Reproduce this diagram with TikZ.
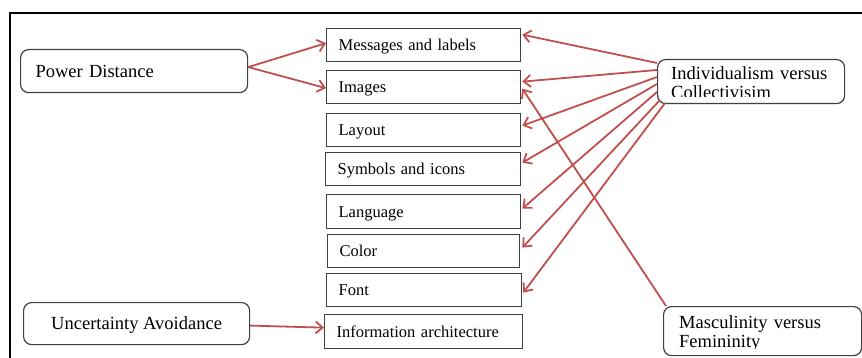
\documentclass[tikz,border=0pt]{standalone}
\usepackage{fontspec}
\setmainfont{Liberation Serif}
\usetikzlibrary{arrows.meta,calc}

\definecolor{linkred}{HTML}{C0504D}
\definecolor{boxgray}{HTML}{404040}
\newcommand\itemsize{\fontsize{16.5}{20}\selectfont}
\newcommand\dimsize{\fontsize{18.5}{19}\selectfont}

\tikzset{
  itembox/.style={draw=boxgray, line width=1.3pt, anchor=north west,
    inner xsep=12pt, inner ysep=0pt, text width=170pt, minimum height=33pt,
    text height=11pt, text depth=0pt, align=left, font=\itemsize},
  dimbox/.style={draw=boxgray, line width=1.2pt, rounded corners=8pt,
    anchor=north west, inner ysep=0pt, font=\dimsize},
  dimtext/.style={anchor=base west, inner sep=0pt, align=left,
    text width=175pt, font=\dimsize},
  link/.style={draw=linkred, line width=1.8pt,
    -{Straight Barb[length=7pt, width=12pt]}},
}

\begin{document}
\begin{tikzpicture}[x=1pt, y=-1pt]
  \useasboundingbox (0,0) rectangle (862,358);

  % outer frame (top and left edges)
  \coordinate (frameL) at (10,358);
  \coordinate (frameC) at (10,13);
  \coordinate (frameR) at (862,13);
  \draw[line width=2.5pt] (frameL) -- (frameC) -- (frameR);

  % cultural dimensions
  \node[dimbox, inner xsep=15pt, text width=197pt, minimum height=43pt,
        text height=12pt, text depth=0pt, align=left]
    (pd) at (20,49) {Power Distance};
  \node[dimbox, inner xsep=0pt, minimum width=226pt, minimum height=42pt,
        text height=11pt, text depth=0pt, align=center]
    (ua) at (23,302) {Uncertainty Avoidance};
  \node[dimbox, minimum width=187pt, minimum height=44pt] (indiv) at (657,59) {};
  \node[dimbox, minimum width=198pt, minimum height=49pt] (masc) at (663,306) {};
  \begin{scope}
    \clip (657,59) rectangle (844,96.5);
    \node[dimtext] (indivtext) at (671,80) {Individualism versus\\Collectivisim};
  \end{scope}
  \begin{scope}
    \clip (663,306) rectangle (862,348);
    \node[dimtext] (masctext) at (679,328) {Masculinity versus\\Femininity};
  \end{scope}

  % interface elements
  \node[itembox] (msg)  at (326,28)  {Messages and labels};
  \node[itembox] (img)  at (326,70)  {Images};
  \node[itembox] (lay)  at (326,113) {Layout};
  \node[itembox, text width=171pt] (sym)  at (325,152) {Symbols and icons};
  \node[itembox, minimum height=34pt] (lang) at (326,194) {Language};
  \node[itembox, text width=168pt] (col)  at (327,234) {Color};
  \node[itembox, text width=171pt] (font) at (326,273) {Font};
  \node[itembox, text width=174pt, minimum height=34pt] (ia) at (324,314)
    {Information architecture};

  % Power Distance
  \draw[link] ($(pd.east)+(0,-4)$) -- ($(msg.west)+(0,-2)$);
  \draw[link] ($(pd.east)+(0,-4)$) -- ($(img.west)+(0,1)$);

  % Uncertainty Avoidance
  \draw[link] ($(ua.east)+(0,2)$) -- ($(ia.west)+(0,-4)$);

  % Individualism versus Collectivism
  \draw[link] ($(indiv.north west)+(0,4)$)  -- ($(msg.east)+(1,-10.5)$);
  \draw[link] ($(indiv.north west)+(0,11)$) -- ($(img.east)+(1,-5.5)$);
  \draw[link] ($(indiv.north west)+(0,18)$) -- ($(lay.east)+(1,-4.5)$);
  \draw[link] ($(indiv.north west)+(0,25)$) -- ($(sym.east)+(1,-6.5)$);
  \draw[link] ($(indiv.north west)+(0,33)$) -- ($(lang.east)+(1,-3)$);
  \draw[link] ($(indiv.north west)+(3,41)$) -- ($(col.east)+(2,-3.5)$);
  \draw[link] ($(indiv.north west)+(8,44)$) -- ($(font.east)+(1,2.5)$);

  % Masculinity versus Femininity
  \draw[link] ($(masc.north west)+(3,0)$) -- ($(img.east)+(1,1.5)$);
\end{tikzpicture}
\end{document}
